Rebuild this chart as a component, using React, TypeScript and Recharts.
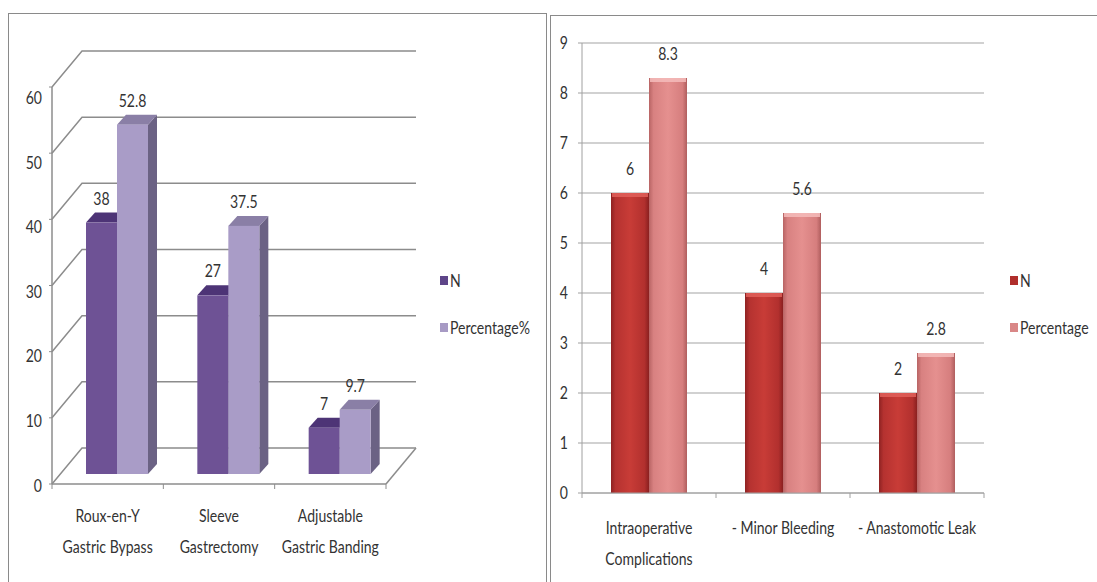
import { BarChart, Bar, XAxis, YAxis, CartesianGrid, LabelList, Legend } from "recharts"

// left panel: type of bariatric procedure
const procedureCategories = ["Roux-en-Y\nGastric Bypass", "Sleeve\nGastrectomy", "Adjustable\nGastric Banding"]
const procedureN = [38, 27, 7]
const procedurePct = [52.8, 37.5, 9.7]
const procedureTicks = [0, 10, 20, 30, 40, 50, 60]

// right panel: complications
const complicationCategories = ["Intraoperative\nComplications", "- Minor Bleeding", "- Anastomotic Leak"]
const complicationN = [6, 4, 2]
const complicationPct = [8.3, 5.6, 2.8]
const complicationTicks = [0, 1, 2, 3, 4, 5, 6, 7, 8, 9]

const procedureData = procedureCategories.map((name, i) => ({ name, n: procedureN[i], pct: procedurePct[i] }))
const complicationData = complicationCategories.map((name, i) => ({ name, n: complicationN[i], pct: complicationPct[i] }))

// the source image is squeezed sideways, so text is drawn tall and narrow
const FONT = "Lato, 'Open Sans', sans-serif"
const FONT_SIZE = 18
const SQUEEZE = 0.78
const TEXT = "#333333"

// fake 3d for the left chart
const WALL_X = 30
const WALL_Y = -36
const SHIFT_X = 9
const SHIFT_Y = -10
const DEPTH_X = 9
const DEPTH_Y = -10
const LEFT_FLOOR_Y = 484

function NarrowText({ x, y, anchor = "middle", children }: any) {
  return (
    <text
      transform={`translate(${x} ${y}) scale(${SQUEEZE} 1)`}
      textAnchor={anchor}
      fontFamily={FONT}
      fontSize={FONT_SIZE}
      fill={TEXT}
    >
      {children}
    </text>
  )
}

function Box3D(props: any) {
  const { x, y, width: w, height: h, front, top, side } = props
  if (!h) return null
  const X = x + SHIFT_X
  const Y = y + SHIFT_Y
  return (
    <g>
      <polygon
        points={`${X + w},${Y} ${X + w + DEPTH_X},${Y + DEPTH_Y} ${X + w + DEPTH_X},${Y + h + DEPTH_Y} ${X + w},${Y + h}`}
        fill={side}
      />
      <polygon
        points={`${X},${Y} ${X + w},${Y} ${X + w + DEPTH_X},${Y + DEPTH_Y} ${X + DEPTH_X},${Y + DEPTH_Y}`}
        fill={top}
      />
      <rect x={X} y={Y} width={w} height={h} fill={front} />
    </g>
  )
}

function wallLine(p: any) {
  const { x1, y1, x2 } = p
  const floor = Math.abs(y1 - LEFT_FLOOR_Y) < 2
  return (
    <g key={p.key ?? `w${y1}`}>
      <polyline
        points={`${x1},${y1} ${x1 + WALL_X},${y1 + WALL_Y} ${x2 + WALL_X},${y1 + WALL_Y}`}
        fill="none"
        stroke="#8c8c8c"
        strokeWidth={1.5}
      />
      {floor && (
        <line x1={x2} y1={y1} x2={x2 + WALL_X} y2={y1 + WALL_Y} stroke="#8c8c8c" strokeWidth={1.5} />
      )}
    </g>
  )
}

function label3D(props: any) {
  const vb = props.viewBox ?? props
  return (
    <NarrowText x={vb.x + SHIFT_X + vb.width / 2} y={vb.y + SHIFT_Y - 18}>
      {props.value}
    </NarrowText>
  )
}

function flatLabel(props: any) {
  const vb = props.viewBox ?? props
  return (
    <NarrowText x={vb.x + vb.width / 2} y={vb.y - 18}>
      {props.value}
    </NarrowText>
  )
}

function ValueTick(props: any) {
  const { x, y, payload } = props
  return (
    <NarrowText x={x} y={y + 6} anchor="end">
      {payload.value}
    </NarrowText>
  )
}

// the 3d chart's labels drift below their wall lines toward the top
function WallValueTick(props: any) {
  const { x, y, payload } = props
  return (
    <NarrowText x={x} y={y + 7.5 + payload.value * 0.16} anchor="end">
      {payload.value}
    </NarrowText>
  )
}

function makeCategoryTick(gap: number, tickColor: string) {
  return function CategoryTick(props: any) {
    const { x, y, payload, index } = props
    const off = payload.offset || 0
    const lines = String(payload.value).split("\n")
    return (
      <g>
        {index === 0 && <line x1={x - off} y1={y} x2={x - off} y2={y + 5} stroke={tickColor} />}
        <line x1={x + off} y1={y} x2={x + off} y2={y + 5} stroke={tickColor} />
        <NarrowText x={x} y={y + gap}>
          {lines.map((l, i) => (
            <tspan key={i} x={0} dy={i === 0 ? 0 : 31}>
              {l}
            </tspan>
          ))}
        </NarrowText>
      </g>
    )
  }
}

function legendBox(payload: any[] | undefined) {
  return (
    <div style={{ fontFamily: FONT, fontSize: FONT_SIZE, color: TEXT, textAlign: "left" }}>
      {(payload ?? []).map((item: any, i: number) => (
        <div
          key={i}
          style={{ display: "flex", alignItems: "center", height: 20, marginTop: i === 0 ? 0 : 27, whiteSpace: "nowrap" }}
        >
          <span style={{ width: 8, height: 9, background: item.color, marginRight: 2, display: "inline-block", flex: "none" }} />
          <span style={{ display: "inline-block", transform: `scaleX(${SQUEEZE})`, transformOrigin: "left center" }}>
            {item.value}
          </span>
        </div>
      ))}
    </div>
  )
}

const ProcedureTick = makeCategoryTick(38, "#8c8c8c")
const ComplicationTick = makeCategoryTick(41, "#a0a0a0")

function ProcedureChart() {
  return (
    <BarChart
      width={550}
      height={582}
      data={procedureData}
      margin={{ top: 87, right: 164, bottom: 18, left: 16 }}
      barGap={0}
      barSize={31}
    >
      <CartesianGrid vertical={false} horizontal={wallLine} />
      <XAxis
        dataKey="name"
        height={80}
        axisLine={{ stroke: "#8c8c8c", strokeWidth: 1.5 }}
        tickLine={false}
        tickSize={0}
        tickMargin={0}
        interval={0}
        tick={<ProcedureTick />}
      />
      <YAxis
        width={36}
        domain={[0, 60]}
        ticks={procedureTicks}
        interval={0}
        axisLine={{ stroke: "#8c8c8c", strokeWidth: 1.5 }}
        tickLine={{ stroke: "#8c8c8c" }}
        tickSize={3}
        tickMargin={7}
        tick={<WallValueTick />}
      />
      <Legend
        layout="horizontal"
        align="center"
        verticalAlign="middle"
        wrapperStyle={{ left: 440, top: 270, right: "auto", bottom: "auto", width: 110 }}
        content={(p: any) => legendBox(p.payload)}
      />
      <Bar
        dataKey="n"
        name="N"
        fill="#5e4589"
        isAnimationActive={false}
        shape={(p: any) => <Box3D {...p} front="#6e5295" top="#4d3476" side="#4a3a63" />}
      >
        <LabelList dataKey="n" content={label3D} />
      </Bar>
      <Bar
        dataKey="pct"
        name="Percentage%"
        fill="#a79ac4"
        isAnimationActive={false}
        shape={(p: any) => <Box3D {...p} front="#a99cc7" top="#8a7fa6" side="#6b6284" />}
      >
        <LabelList dataKey="pct" content={label3D} />
      </Bar>
    </BarChart>
  )
}

function GlossBar(props: any) {
  const { x, y, width, height, grad, cap } = props
  if (!height) return null
  return (
    <g>
      <rect x={x} y={y} width={width} height={height} fill={`url(#${grad})`} />
      <rect x={x + 1} y={y} width={width - 2} height={4} fill={cap} opacity={0.85} />
    </g>
  )
}

function ComplicationChart() {
  return (
    <BarChart
      width={547}
      height={582}
      data={complicationData}
      margin={{ top: 43, right: 113, bottom: 9, left: 8 }}
      barGap={0}
      barSize={38}
    >
      <defs>
        <linearGradient id="gradN" x1="0" y1="0" x2="1" y2="0">
          <stop offset="0%" stopColor="#8e2222" />
          <stop offset="12%" stopColor="#b53230" />
          <stop offset="50%" stopColor="#c83c37" />
          <stop offset="88%" stopColor="#b2302e" />
          <stop offset="100%" stopColor="#8a2020" />
        </linearGradient>
        <linearGradient id="gradP" x1="0" y1="0" x2="1" y2="0">
          <stop offset="0%" stopColor="#b86464" />
          <stop offset="12%" stopColor="#d88181" />
          <stop offset="50%" stopColor="#e5908f" />
          <stop offset="88%" stopColor="#d67e7e" />
          <stop offset="100%" stopColor="#b05e5e" />
        </linearGradient>
      </defs>
      <CartesianGrid vertical={false} stroke="#a3a3a3" />
      <XAxis
        dataKey="name"
        height={80}
        axisLine={{ stroke: "#a0a0a0" }}
        tickLine={false}
        tickSize={0}
        tickMargin={0}
        interval={0}
        tick={<ComplicationTick />}
      />
      <YAxis
        width={24}
        domain={[0, 9]}
        ticks={complicationTicks}
        interval={0}
        axisLine={{ stroke: "#a0a0a0" }}
        tickLine={{ stroke: "#a0a0a0" }}
        tickSize={4}
        tickMargin={10}
        tick={<ValueTick />}
      />
      <Legend
        layout="horizontal"
        align="center"
        verticalAlign="middle"
        wrapperStyle={{ left: 460, top: 270, right: "auto", bottom: "auto", width: 90 }}
        content={(p: any) => legendBox(p.payload)}
      />
      <Bar
        dataKey="n"
        name="N"
        fill="#b02e2c"
        isAnimationActive={false}
        shape={(p: any) => <GlossBar {...p} grad="gradN" cap="#e0605a" />}
      >
        <LabelList dataKey="n" content={flatLabel} />
      </Bar>
      <Bar
        dataKey="pct"
        name="Percentage"
        fill="#d98787"
        isAnimationActive={false}
        shape={(p: any) => <GlossBar {...p} grad="gradP" cap="#f4bcbb" />}
      >
        <LabelList dataKey="pct" content={flatLabel} />
      </Bar>
    </BarChart>
  )
}

export default function App() {
  return (
    <div
      style={{
        position: "absolute",
        left: 0,
        top: 0,
        width: 1097,
        height: 582,
        overflow: "hidden",
        background: "#fff",
      }}
    >
      <div
        style={{
          position: "absolute",
          left: 8,
          top: 13,
          width: 539,
          height: 620,
          border: "1px solid #8a8a8a",
          boxSizing: "border-box",
        }}
      />
      <div
        style={{
          position: "absolute",
          left: 550,
          top: 15,
          width: 600,
          height: 620,
          border: "1px solid #8a8a8a",
          boxSizing: "border-box",
        }}
      />
      <div style={{ position: "absolute", left: 0, top: 0 }}>
        <ProcedureChart />
      </div>
      <div style={{ position: "absolute", left: 550, top: 0 }}>
        <ComplicationChart />
      </div>
    </div>
  )
}
